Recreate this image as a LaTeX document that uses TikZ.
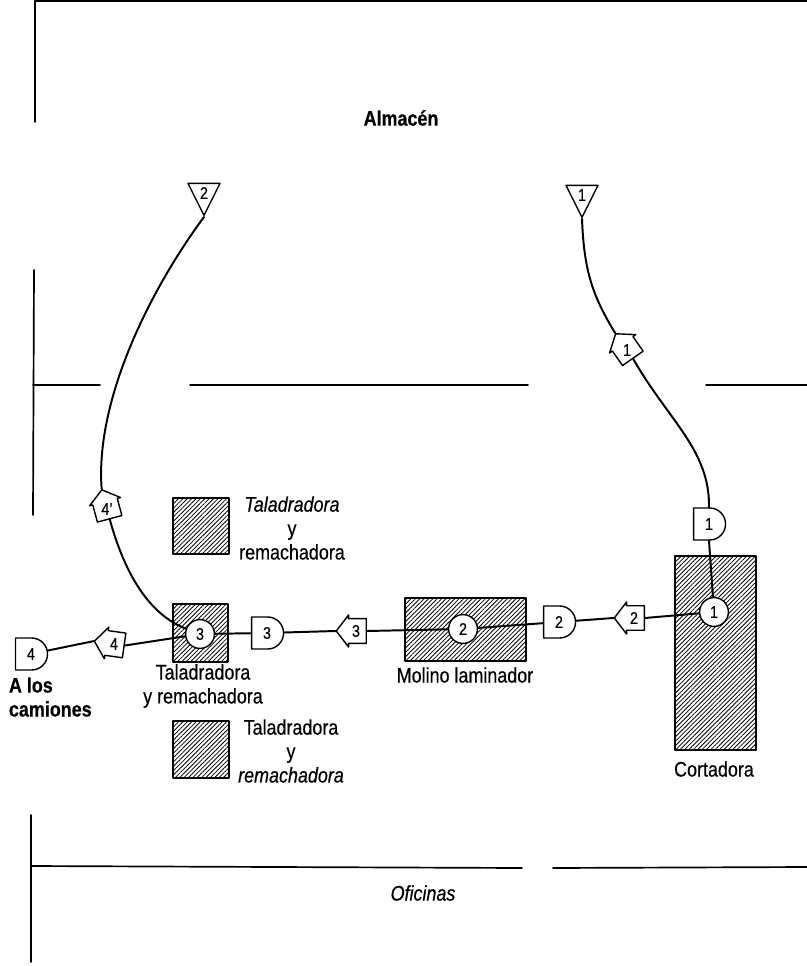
\documentclass[tikz,border=0pt]{standalone}
\usepackage{fontspec}
\setmainfont[FakeStretch=0.85,FakeBold=0.5]{Liberation Sans}
\usetikzlibrary{shapes.geometric,shapes.arrows,shapes.misc,patterns.meta}
\tikzset{
	wall/.style={line width=1.2pt},
	flow/.style={line width=1.4pt},
	machine/.style={draw, line width=1.6pt, pattern={Lines[angle=45,distance=2.2pt,line width=0.6pt]}},
	operation/.style={circle, draw, fill=white, line width=1pt, minimum size=0.72cm, inner sep=0pt, font=\fontsize{12}{13}\selectfont},
	storage/.style={isosceles triangle, isosceles triangle apex angle=52, isosceles triangle stretches, shape border rotate=-90, draw, fill=white, line width=1pt, minimum width=0.8cm, minimum height=0.8cm, inner sep=0pt, font=\fontsize{12}{13}\selectfont},
	delay/.style={rounded rectangle, rounded rectangle left arc=none, draw, fill=white, line width=1pt, minimum width=0.8cm, minimum height=0.8cm, inner sep=0pt, font=\fontsize{12}{13}\selectfont},
	transport/.style={single arrow, single arrow tip angle=105, single arrow head extend=0.05cm, draw, fill=white, line width=1pt, minimum width=0.8cm, minimum height=0.75cm, inner sep=0pt, rotate=#1, font=\fontsize{12}{13}\selectfont},
	label/.style={align=center, font=\fontsize{15}{17}\selectfont},
}
\begin{document}
\begin{tikzpicture}[x=0.025cm, y=-0.025cm, line join=round, line cap=round]
	\useasboundingbox (0,0) rectangle (807,966);
	% walls
	\draw[wall] (35,122)--(35,1)--(807,1);
	\draw[wall] (33,385)--(100,385);
	\draw[wall] (190,385)--(528,385);
	\draw[wall] (706,385)--(807,385);
	\draw[wall] (34,270)--(33,515);
	\draw[wall] (31,815)--(31,962);
	\draw[wall] (31,866)--(522,868);
	\draw[wall] (553,868)--(807,867);
	% machines
	\draw[machine] (173,498) rectangle (229,554);
	\draw[machine] (173,604) rectangle (228,662);
	\draw[machine] (173,721) rectangle (229,778);
	\draw[machine] (405,598) rectangle (526,661);
	\draw[machine] (675,556) rectangle (756,750);
	% symbols
	\node[storage] (almacen2) at (204,193) {2};
	\node[storage] (almacen1) at (582,195) {1};
	\node[transport=125] (mover1) at (627,350) {\rotatebox{-125}{1}};
	\node[delay] (espera1) at (709,524) {1};
	\node[operation] (corte) at (714,612) {1};
	\node[transport=180] (mover2) at (634,618) {\rotatebox{180}{2}};
	\node[delay] (espera2) at (559,622) {2};
	\node[operation] (molino) at (463,629) {2};
	\node[transport=180] (mover3) at (356,631) {\rotatebox{180}{3}};
	\node[delay] (espera3) at (267,633) {3};
	\node[operation] (taladro) at (200,634) {3};
	\node[transport=172] (mover4) at (114,644) {\rotatebox{-172}{4}};
	\node[delay] (espera4) at (31,654) {4};
	\node[transport=105] (mover5) at (107,509) {\rotatebox{-105}{4'}};
	% flow lines
	\draw[flow] (almacen1.apex) .. controls (584,270) and (592,295) .. (mover1.tip);
	\draw[flow] (mover1.tail) .. controls (668,420) and (710,450) .. (espera1.north);
	\draw[flow] (espera1.south) -- (corte);
	\draw[flow] (corte) -- (mover2.tail);
	\draw[flow] (mover2.tip) -- (espera2);
	\draw[flow] (espera2) -- (molino);
	\draw[flow] (molino) -- (mover3.tail);
	\draw[flow] (mover3.tip) -- (espera3);
	\draw[flow] (espera3) -- (taladro);
	\draw[flow] (taladro) -- (mover4.tail);
	\draw[flow] (mover4.tip) -- (espera4);
	\draw[flow] (almacen2.apex) .. controls (150,290) and (95,400) .. (mover5.tip);
	\draw[flow] (mover5.tail) .. controls (125,575) and (150,615) .. (taladro);
	% labels
	\node[label] (almacen) at (401,118) {\textbf{Almacén}};
	\node[label] (oficinas) at (423,893) {\textit{Oficinas}};
	\node[label, align=left, anchor=west] (camiones) at (4,697) {\textbf{A los}\\\textbf{camiones}};
	\node[label] (nombre3) at (203,686) {Taladradora\\y remachadora};
	\node[label] (nombre4) at (292,528) {\textit{Taladradora}\\y\\remachadora};
	\node[label] (nombre5) at (291,751) {Taladradora\\y\\\textit{remachadora}};
	\node[label] (nombre2) at (465,675) {Molino laminador};
	\node[label] (nombre1) at (714,769) {Cortadora};
\end{tikzpicture}
\end{document}
